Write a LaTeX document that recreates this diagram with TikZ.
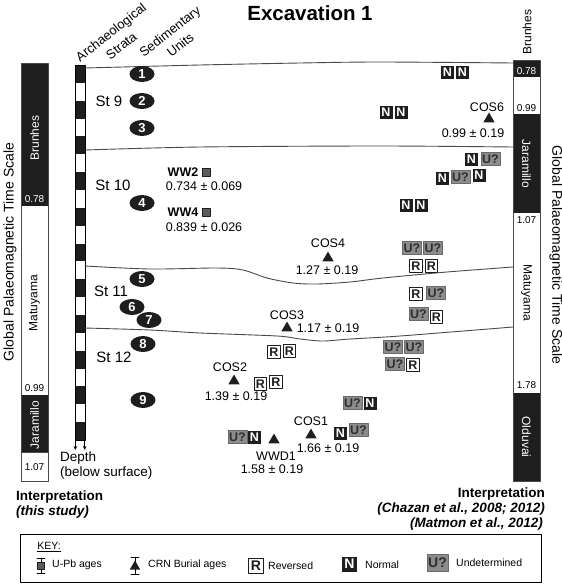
\documentclass[tikz,border=0pt]{standalone}
\usepackage{fontspec}
\setmainfont{Liberation Sans}
\usetikzlibrary{arrows.meta,shapes.geometric}
\definecolor{nblack}{HTML}{1E1E1E}
\definecolor{ugrey}{HTML}{8C8C8C}
\definecolor{uedge}{HTML}{6A6A6A}
\definecolor{utext}{HTML}{2E2E2E}
\definecolor{sqgrey}{HTML}{5C5C5C}
\definecolor{bline}{HTML}{4A4A4A}
\tikzset{
  unit/.style={ellipse, fill=nblack, text=white, font=\fontsize{13}{13}\selectfont\bfseries, minimum width=25pt, minimum height=16pt, inner sep=0pt},
  nbox/.style={fill=nblack, text=white, font=\fontsize{12.5}{13}\selectfont\bfseries, minimum width=13pt, minimum height=13pt, inner sep=0pt},
  rbox/.style={draw=nblack, line width=0.6pt, fill=white, text=nblack, font=\fontsize{12.5}{13}\selectfont\bfseries, minimum width=12.5pt, minimum height=12.5pt, inner sep=0pt},
  ubox/.style={draw=uedge, line width=0.6pt, fill=ugrey, text=utext, font=\fontsize{12.5}{13}\selectfont\bfseries, minimum width=19pt, minimum height=13pt, inner sep=0pt},
  tri/.style={regular polygon, regular polygon sides=3, fill=nblack, minimum size=13pt, inner sep=0pt},
  upb/.style={draw=nblack, line width=0.5pt, fill=sqgrey, minimum size=8pt, inner sep=0pt},
  lbl/.style={font=\fontsize{12.5}{13}\selectfont, inner sep=0pt},
  hdr/.style={font=\fontsize{13}{17}\selectfont, align=center, inner sep=0pt},
  stlbl/.style={font=\fontsize{15}{15}\selectfont, inner sep=0pt},
  bartxt/.style={font=\fontsize{12}{12}\selectfont, inner sep=0pt},
  tick/.style={font=\fontsize{10}{10}\selectfont, inner sep=0pt},
  interp/.style={font=\fontsize{13.5}{14}\selectfont\bfseries, inner sep=0pt},
  keytxt/.style={font=\fontsize{10.5}{11}\selectfont, inner sep=0pt, anchor=west},
  bar/.style={draw=bline, line width=0.6pt},
  bound/.style={draw=bline, line width=0.9pt},
  every picture/.style={line cap=round, line join=round}
}

\begin{document}
\begin{tikzpicture}[x=1pt,y=-1pt]
  \useasboundingbox (0,0) rectangle (562,584);

  \node[font=\fontsize{20.5}{22}\selectfont\bfseries, inner sep=0pt] (title) at (310,13) {Excavation 1};
  \node[hdr, rotate=38] (arch) at (116,39) {Archaeological\\Strata};
  \node[hdr, rotate=38] (sed) at (175,38) {Sedimentary\\Units};

  % left time scale
  \fill[nblack] (21,63) rectangle (48,206);
  \fill[nblack] (21,395) rectangle (48,452);
  \draw[bar] (21,63) rectangle (48,481);
  \draw[bar] (21,452) -- (48,452);
  \node[bartxt, rotate=90, text=white] (lbru) at (34.5,138) {Brunhes};
  \node[bartxt, rotate=90] (lmat) at (34.5,303) {Matuyama};
  \node[bartxt, rotate=90, text=white] (ljar) at (34.5,425) {Jaramillo};
  \node[tick, text=white] (l078) at (34.5,199) {0.78};
  \node[tick] (l099) at (34.5,388) {0.99};
  \node[tick] (l107) at (34.5,467) {1.07};
  \node[font=\fontsize{14}{14}\selectfont, rotate=90, inner sep=0pt] (lgpts) at (10,252) {Global Palaeomagnetic Time Scale};

  % right time scale
  \fill[nblack] (513,60) rectangle (540,77);
  \fill[nblack] (513,114) rectangle (540,213);
  \fill[nblack] (513,393) rectangle (540,481);
  \draw[bar] (513,60) rectangle (540,481);
  \node[bartxt, rotate=90] (rbru) at (527,32) {Brunhes};
  \node[tick, text=white] (r078) at (526.5,71) {0.78};
  \node[tick] (r099) at (526.5,108) {0.99};
  \node[bartxt, rotate=-90, text=white] (rjar) at (526.5,164) {Jaramillo};
  \node[tick] (r107) at (526.5,220) {1.07};
  \node[bartxt, rotate=-90] (rmat) at (526.5,293) {Matuyama};
  \node[tick] (r178) at (526.5,385) {1.78};
  \node[bartxt, rotate=-90, text=white] (rold) at (526.5,437) {Olduvai};
  \node[font=\fontsize{14}{14}\selectfont, rotate=-90, inner sep=0pt] (rgpts) at (556,255) {Global Palaeomagnetic Time Scale};

  % strata column
  \foreach \i in {0,2,...,20}
    \fill[nblack] (75,{65+\i*17.857}) rectangle (85,{65+(\i+1)*17.857});
  \draw[line width=0.6pt] (75,65) rectangle (85,440);
  \coordinate (dla) at (75.3,440);
  \coordinate (dlb) at (75.3,450);
  \coordinate (dra) at (84.7,440);
  \coordinate (drb) at (84.7,450);
  \draw[line width=0.6pt, -{Stealth[length=4pt,width=3.5pt]}] (dla) -- (dlb);
  \draw[line width=0.6pt, -{Stealth[length=4pt,width=3.5pt]}] (dra) -- (drb);
  \node[lbl, font=\fontsize{13.5}{14}\selectfont, anchor=west] (depth) at (60,458) {Depth};
  \node[lbl, font=\fontsize{13.5}{14}\selectfont, anchor=west] (below) at (60,473) {(below surface)};

  % boundaries between strata
  \draw[bound] plot[smooth] coordinates {(85,68) (200,65) (300,63) (380,62) (513,63)};
  \draw[bound] plot[smooth] coordinates {(85,150) (200,147) (380,146) (513,147)};
  \draw[bound] plot[smooth] coordinates {(85,266) (150,269) (217,268) (243,270) (267,278) (293,283) (317,284) (350,282) (383,278) (447,272) (513,267)};
  \draw[bound] plot[smooth] coordinates {(85,328) (150,330) (200,333) (277,336) (300,339) (323,341) (350,339) (400,336) (513,327)};

  \foreach \s/\x/\y in {9/109/101, 10/113/185, 11/111/291, 12/114/357}
    \node[stlbl] (st\s) at (\x,\y) {St \s};
  \foreach \n/\x/\y in {1/142/74, 2/142/101, 3/142/128, 4/142/203, 5/142/279, 6/132/307, 7/149/320, 8/143/344, 9/143/400}
    \node[unit] (u\n) at (\x,\y) {\n};

  % U-Pb ages
  \node[lbl, font=\fontsize{12.5}{13}\selectfont\bfseries] (ww2) at (183,172) {WW2};
  \node[upb] (sq2) at (206,172) {};
  \node[lbl] (ww2age) at (204,186) {0.734 ± 0.069};
  \node[lbl, font=\fontsize{12.5}{13}\selectfont\bfseries] (ww4) at (183,212) {WW4};
  \node[upb] (sq4) at (206,212) {};
  \node[lbl] (ww4age) at (204,227) {0.839 ± 0.026};

  % burial ages
  \node[lbl] (cos6) at (487,107) {COS6};
  \node[tri] (t6) at (489,119) {};
  \node[lbl] (cos6age) at (473,133) {0.99 ± 0.19};
  \node[lbl] (cos4) at (328,243) {COS4};
  \node[tri] (t4) at (328,258) {};
  \node[lbl] (cos4age) at (327,270) {1.27 ± 0.19};
  \node[lbl] (cos3) at (287,315) {COS3};
  \node[tri] (t3) at (287,328) {};
  \node[lbl] (cos3age) at (328,328) {1.17 ± 0.19};
  \node[lbl] (cos2) at (230,367) {COS2};
  \node[tri] (t2) at (234,381) {};
  \node[lbl] (cos2age) at (236,396) {1.39 ± 0.19};
  \node[lbl] (cos1) at (311,421) {COS1};
  \node[tri] (t1) at (311,435) {};
  \node[lbl] (cos1age) at (328,448) {1.66 ± 0.19};
  \node[tri] (tw) at (274,440) {};
  \node[lbl] (wwd1) at (276,456) {WWD1};
  \node[lbl] (wwd1age) at (272,469) {1.58 ± 0.19};

  % polarity
  \foreach \x/\y/\t/\s [count=\k] in {447.5/72/nbox/N, 462.5/72/nbox/N, 386/112/nbox/N, 401/112/nbox/N,
      471.5/159/nbox/N, 490.5/159/ubox/U?, 442.5/178/nbox/N, 460.5/177/ubox/U?, 479/175/nbox/N,
      406/205/nbox/N, 421/205/nbox/N, 412/248/ubox/U?, 433/248/ubox/U?, 416/266/rbox/R, 431.5/266/rbox/R,
      416/294/rbox/R, 436/293/ubox/U?, 418.5/314/ubox/U?, 436.5/317/rbox/R, 393/347/ubox/U?, 414/347/ubox/U?,
      395/364/ubox/U?, 413/365/rbox/R, 274/352/rbox/R, 289.5/351/rbox/R, 260.5/384/rbox/R, 276/382/rbox/R,
      352.5/403/ubox/U?, 370/403/nbox/N, 340.5/433/nbox/N, 358.5/430/ubox/U?, 237.5/437/ubox/U?, 254.5/437/nbox/N}
    \node[\t] (pb\k) at (\x,\y) {\s};

  % interpretation
  \node[interp, anchor=west] (intl) at (16,497) {Interpretation};
  \node[interp, anchor=west] (intl2) at (16,512) {\itshape (this study)};
  \node[interp, anchor=east] (intr) at (545,494) {Interpretation};
  \node[interp, anchor=east] (intr2) at (545,509) {\itshape (Chazan et al., 2008; 2012)};
  \node[interp, anchor=east] (intr3) at (543,524) {\itshape (Matmon et al., 2012)};

  % key
  \draw[line width=0.8pt] (20,534) rectangle (541,582);
  \node[keytxt, anchor=center] (key) at (49,547) {\underline{KEY:}};
  \draw[line width=0.7pt] (41,558) -- (41,573) (37,558) -- (45,558) (37,573) -- (45,573);
  \node[upb, minimum size=7pt] (keysq) at (41,565.5) {};
  \node[keytxt] (kupb) at (52,565) {U-Pb ages};
  \draw[line width=0.7pt] (135,557) -- (135,574) (131,557) -- (139,557) (131,574) -- (139,574);
  \node[tri, minimum size=12pt] (keytri) at (135,566.5) {};
  \node[keytxt] (kcrn) at (148,565) {CRN Burial ages};
  \node[rbox, minimum size=15pt, font=\fontsize{14}{14}\selectfont\bfseries] (kr) at (256,566) {R};
  \node[keytxt] (krev) at (268,566) {Reversed};
  \node[nbox, minimum size=15pt, font=\fontsize{14}{14}\selectfont\bfseries] (kn) at (349.5,564) {N};
  \node[keytxt] (knor) at (365,565) {Normal};
  \node[ubox, minimum width=21pt, minimum height=17pt, font=\fontsize{14}{14}\selectfont\bfseries] (ku) at (437.5,563) {U?};
  \node[keytxt] (kund) at (456,563) {Undetermined};
\end{tikzpicture}
\end{document}
